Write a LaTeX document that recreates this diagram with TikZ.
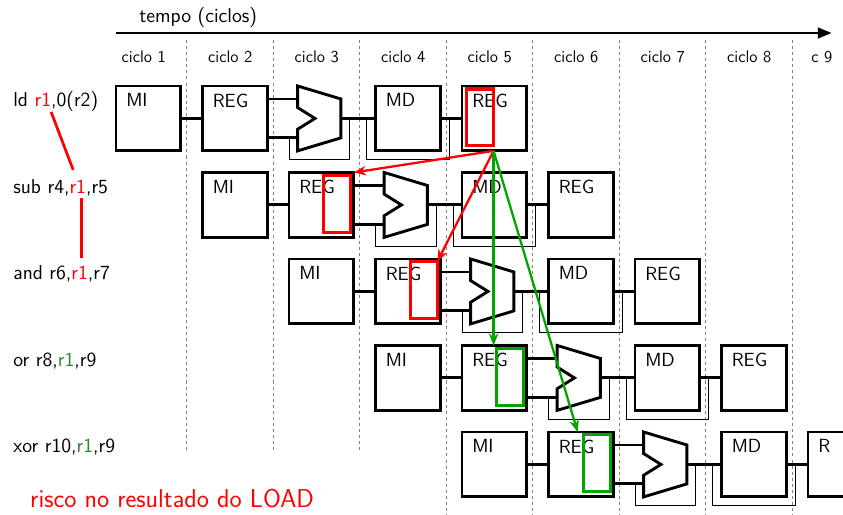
\documentclass[tikz,border=0pt]{standalone}
\usepackage{xcolor}
\usepackage{tikz}
\usetikzlibrary{arrows.meta, positioning, calc}
\renewcommand{\familydefault}{\sfdefault}
\definecolor{verde}{RGB}{0,165,0}
\definecolor{verdetx}{RGB}{40,135,40}
\tikzset{
  estagio/.style={rectangle, draw, line width=1.9pt, minimum width=1.5cm,
                  minimum height=1.5cm, anchor=north west, inner sep=0pt, outer sep=0pt},
  rot/.style={inner sep=0pt, font=\fontsize{12.5}{14}\selectfont},
  instr/.style={anchor=west, inner sep=0pt, font=\fontsize{13.2}{15}\selectfont},
  ciclo/.style={inner sep=0pt, font=\fontsize{11}{13}\selectfont},
  fio/.style={line width=1.9pt},
  desvio/.style={line width=0.6pt},
  grade/.style={gray, line width=0.6pt, dash pattern=on 2pt off 2pt},
  leitura/.style={rectangle, draw=red, line width=2pt, minimum width=0.63cm,
                  minimum height=1.32cm, inner sep=0pt, outer sep=0pt},
  escrita/.style={leitura, minimum height=1.3cm},
  pronto/.style={leitura, draw=verde},
  arc/.style={-{Stealth[length=2.8mm, width=2.2mm]}, line width=1.5pt}
}

\begin{document}
\begin{tikzpicture}
  \useasboundingbox (-2.682,-9.919) rectangle (16.809,1.988);
  \clip (-2.682,-9.919) rectangle (16.809,1.988);

  \coordinate (t0) at (0,1.225);
  \coordinate (t1) at (16.55,1.225);
  \draw[line width=1.9pt, -{Triangle[length=3.2mm, width=2.4mm]}] (t0) -- (t1);
  \node[font=\fontsize{13.2}{15}\selectfont, inner sep=0pt] (tempo) at (1.9,1.572) {tempo (ciclos)};

  \foreach \c [count=\i from 0] in {ciclo 1,ciclo 2,ciclo 3,ciclo 4,ciclo 5,ciclo 6,ciclo 7,ciclo 8}
    \node[ciclo] (c\i) at (0.64+2*\i,0.67) {\c};
  \node[ciclo] (c8) at (16.32,0.67) {c 9};

  \foreach \i/\fim in {0/-8.46,1/-8.46,2/-8.46,3/-10,4/-10,5/-10,6/-10,7/-10}
    \draw[grade] (1.64+2*\i,1.064) -- (1.64+2*\i,\fim);

  \foreach \r/\ult in {0/REG,1/REG,2/REG,3/REG,4/R} {
    \draw[desvio] (2*\r+4,-2*\r-1.2) |- (2*\r+5.4,-2*\r-1.7) -- (2*\r+5.4,-2*\r-0.75);
    \draw[desvio] (2*\r+5.8,-2*\r-0.75) |- (2*\r+7.7,-2*\r-1.7) -- (2*\r+7.7,-2*\r-0.75);
    \node[estagio] (mi\r) at (2*\r,-2*\r) {};
    \node[estagio] (reg\r) at (2*\r+2,-2*\r) {};
    \node[estagio] (md\r) at (2*\r+6,-2*\r) {};
    \node[estagio] (wb\r) at (2*\r+8,-2*\r) {};
    \node[rot, below right=0.17cm and 0.23cm of mi\r.north west] (tmi\r) {MI};
    \node[rot, below right=0.17cm and 0.23cm of reg\r.north west] (treg\r) {REG};
    \node[rot, below right=0.17cm and 0.23cm of md\r.north west] (tmd\r) {MD};
    \node[rot, below right=0.17cm and 0.23cm of wb\r.north west] (twb\r) {\ult};
    \draw[fio, fill=white] (2*\r+4.2,-2*\r) -- ++(1,-0.3) -- ++(0,-0.9) -- ++(-1,-0.3)
      -- ++(0,0.5) -- ++(0.4,0.25) -- ++(-0.4,0.25) -- cycle;
    \coordinate (ea\r) at (2*\r+4.2,-2*\r-0.3);
    \coordinate (eb\r) at (2*\r+4.2,-2*\r-1.2);
    \coordinate (sa\r) at (2*\r+5.2,-2*\r-0.75);
    \draw[fio] (mi\r.east) -- (reg\r.west);
    \draw[fio] (reg\r.east |- ea\r) -- (ea\r);
    \draw[fio] (reg\r.east |- eb\r) -- (eb\r);
    \draw[fio] (sa\r) -- (md\r.west);
    \draw[fio] (md\r.east) -- (wb\r.west);
  }

  \node[instr] (i0) at (-2.38,-0.35) {ld \textcolor{red}{r1},0(r2)};
  \node[instr] (i1) at (-2.38,-2.35) {sub r4,\textcolor{red}{r1},r5};
  \node[instr] (i2) at (-2.38,-4.35) {and r6,\textcolor{red}{r1},r7};
  \node[instr] (i3) at (-2.38,-6.35) {or r8,\textcolor{verdetx}{r1},r9};
  \node[instr] (i4) at (-2.38,-8.35) {xor r10,\textcolor{verdetx}{r1},r9};

  \coordinate (d0) at (-1.50,-0.60);
  \coordinate (d1) at (-0.99,-1.94);
  \coordinate (d2) at (-0.79,-2.59);
  \coordinate (d3) at (-0.79,-3.98);
  \draw[red, line width=1.8pt] (d0) -- (d1);
  \draw[red, line width=1.8pt] (d2) -- (d3);

  \node[escrita, below right=0.07cm and 0.1cm of wb0.north west] (rd0) {};
  \node[leitura, below left=0.06cm and 0.07cm of reg1.north east] (rd1) {};
  \node[leitura, below left=0.06cm and 0.07cm of reg2.north east] (rd2) {};
  \node[pronto, below left=0.06cm and 0.08cm of reg3.north east] (rd3) {};
  \node[pronto, below left=0.06cm and 0.07cm of reg4.north east] (rd4) {};

  \coordinate (src) at (rd0.south east |- wb0.south);
  \draw[arc, red] (src) -- (reg1.north east);
  \draw[arc, red] (src) -- (rd2.north east);
  \draw[arc, verde] (src) -- (src |- reg3.north);
  \draw[arc, verde] (src) -- ($(reg4.north west)!0.45!(reg4.north east)$);

  \node[anchor=west, inner sep=0pt, text=red, font=\fontsize{17}{20}\selectfont] (nota)
    at (-1.99,-9.53) {risco no resultado do LOAD};
\end{tikzpicture}
\end{document}
